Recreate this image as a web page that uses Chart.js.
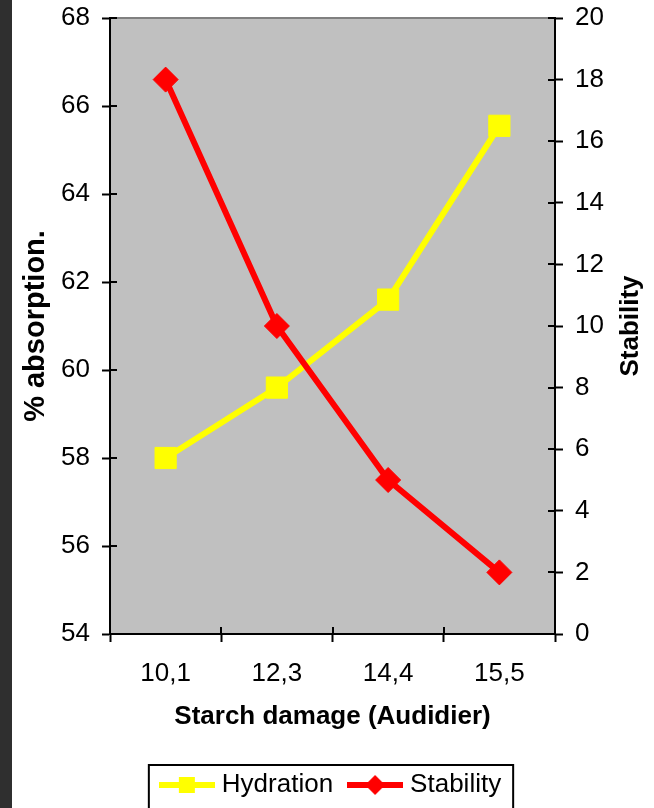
<!DOCTYPE html>
<html><head><meta charset="utf-8">
<script src="https://cdn.jsdelivr.net/npm/chart.js@4"></script>
<style>
html,body{margin:0;padding:0;background:#fff;overflow:hidden}
#strip{position:absolute;left:0;top:0;width:12px;height:808px;background:#2f2f2f}
#c{position:absolute;left:0;top:0}
</style></head><body>
<div id="strip"></div>
<canvas id="c" width="654" height="808"></canvas>
<script>
const categories = ['10,1', '12,3', '14,4', '15,5'];
const hydration = [58.0, 59.6, 61.6, 65.55];
const stability = [18, 10, 5, 2];
const absorptionTicks = [54, 56, 58, 60, 62, 64, 66, 68];
const stabilityTicks = [0, 2, 4, 6, 8, 10, 12, 14, 16, 18, 20];
const seriesNames = ['Hydration', 'Stability'];
const axisTitles = ['Starch damage (Audidier)', '% absorption.', 'Stability'];

const FAM = '"Liberation Sans", Arial, sans-serif';
const YELLOW = '#ffff00', RED = '#ff0000';

function legendImg(color, shape) {
  const c = document.createElement('canvas');
  c.width = 56; c.height = 24;
  const g = c.getContext('2d');
  g.fillStyle = color;
  g.fillRect(0, 9, 56, 6);
  if (shape === 'rect') {
    g.fillRect(20, 4, 16, 16);
  } else {
    g.beginPath(); g.moveTo(28, 2); g.lineTo(38, 12); g.lineTo(28, 22); g.lineTo(18, 12); g.closePath(); g.fill();
  }
  return c;
}
const imgs = [legendImg(YELLOW, 'rect'), legendImg(RED, 'diamond')];

function seg(ctx, x1, y1, x2, y2) { ctx.beginPath(); ctx.moveTo(x1, y1); ctx.lineTo(x2, y2); ctx.stroke(); }

const decor = {
  id: 'decor',
  beforeDraw(chart) {
    const {ctx, chartArea: a} = chart;
    ctx.save();
    ctx.fillStyle = '#c0c0c0';
    ctx.fillRect(a.left, a.top, a.right - a.left, a.bottom - a.top);
    ctx.strokeStyle = '#808080'; ctx.lineWidth = 2;
    seg(ctx, a.left, a.top, a.right, a.top);
    ctx.restore();
  },
  afterDraw(chart) {
    const {ctx, chartArea: a} = chart;
    const yl = chart.scales.y, yr = chart.scales.y2, x = chart.scales.x;
    ctx.save();
    ctx.strokeStyle = '#000'; ctx.lineWidth = 2;
    yl.ticks.forEach(t => { const p = Math.round(yl.getPixelForValue(t.value)); seg(ctx, a.left, p, a.left + 7, p); });
    yr.ticks.forEach(t => { const p = Math.round(yr.getPixelForValue(t.value)); seg(ctx, a.right - 7, p, a.right, p); });
    for (let i = 0; i <= categories.length; i++) {
      const p = Math.round(x.getPixelForValue(i - 0.5));
      seg(ctx, p, a.bottom - 7, p, a.bottom);
    }
    // right axis title (reads bottom to top)
    ctx.fillStyle = '#000';
    ctx.font = 'bold 26px ' + FAM;
    ctx.textAlign = 'center'; ctx.textBaseline = 'middle';
    ctx.translate(631, (a.top + a.bottom) / 2);
    ctx.rotate(-Math.PI / 2);
    ctx.fillText(axisTitles[2], 0, 0);
    ctx.setTransform(1, 0, 0, 1, 0, 0);
    // legend frame
    const hb = chart.legend.legendHitBoxes;
    if (hb && hb.length) {
      const l = hb[0].left - 16;
      const last = hb[hb.length - 1];
      const r = last.left + last.width + 12;
      ctx.strokeStyle = '#000'; ctx.lineWidth = 2;
      ctx.strokeRect(l, 765, r - l, 80);
    }
    ctx.restore();
  }
};

const tickFont = {family: FAM, size: 26};
const gridCfg = {display: true, drawOnChartArea: false, drawTicks: true, tickLength: 8, tickWidth: 2, tickColor: '#000'};
const borderCfg = {display: true, color: '#000', width: 2};

new Chart(document.getElementById('c'), {
  type: 'line',
  data: {
    labels: categories,
    datasets: [
      {label: seriesNames[0], data: hydration, yAxisID: 'y', borderColor: YELLOW, backgroundColor: YELLOW,
       borderWidth: 6, tension: 0, pointStyle: 'rect', pointRadius: 15, pointBorderWidth: 1,
       pointBackgroundColor: YELLOW, pointBorderColor: YELLOW, order: 1},
      {label: seriesNames[1], data: stability, yAxisID: 'y2', borderColor: RED, backgroundColor: RED,
       borderWidth: 6, tension: 0, pointStyle: 'rectRot', pointRadius: 12.5, pointBorderWidth: 1,
       pointBackgroundColor: RED, pointBorderColor: RED, order: 0}
    ]
  },
  options: {
    responsive: false, animation: false, devicePixelRatio: 1,
    layout: {padding: {top: 18, left: 12, right: 0, bottom: 0}},
    plugins: {
      tooltip: {enabled: false},
      legend: {
        position: 'bottom',
        labels: {
          usePointStyle: true, pointStyleWidth: 44, padding: 20, color: '#000',
          font: {family: FAM, size: 26},
          generateLabels(chart) {
            return seriesNames.map((n, i) => ({
              text: n, pointStyle: imgs[i], datasetIndex: i, hidden: false,
              fillStyle: i ? RED : YELLOW, strokeStyle: i ? RED : YELLOW, lineWidth: 0, fontColor: '#000'
            }));
          }
        }
      }
    },
    scales: {
      x: {
        type: 'category', offset: true,
        grid: Object.assign({}, gridCfg, {offset: true}),
        border: borderCfg,
        ticks: {color: '#000', font: tickFont, padding: 16, maxRotation: 0, autoSkip: false},
        title: {display: true, text: axisTitles[0], color: '#000', font: {family: FAM, size: 26, weight: 'bold'}, padding: {top: 0, bottom: 20}},
        afterFit(s) { s.height = 118; s.paddingLeft = 0; s.paddingRight = 0; }
      },
      y: {
        position: 'left',
        min: absorptionTicks[0], max: absorptionTicks[absorptionTicks.length - 1],
        afterBuildTicks(s) { s.ticks = absorptionTicks.map(v => ({value: v})); },
        grid: gridCfg, border: borderCfg,
        ticks: {color: '#000', font: tickFont, padding: 12},
        title: {display: true, text: axisTitles[1], color: '#000', font: {family: FAM, size: 29, weight: 'bold'}, padding: {top: 7, bottom: 0}},
        afterFit(s) { s.width = 98; s.paddingTop = 0; s.paddingBottom = 0; }
      },
      y2: {
        position: 'right',
        min: stabilityTicks[0], max: stabilityTicks[stabilityTicks.length - 1],
        afterBuildTicks(s) { s.ticks = stabilityTicks.map(v => ({value: v})); },
        grid: gridCfg, border: borderCfg,
        ticks: {color: '#000', font: tickFont, padding: 12},
        afterFit(s) { s.width = 99; s.paddingTop = 0; s.paddingBottom = 0; }
      }
    }
  },
  plugins: [decor]
});
</script>
</body></html>
